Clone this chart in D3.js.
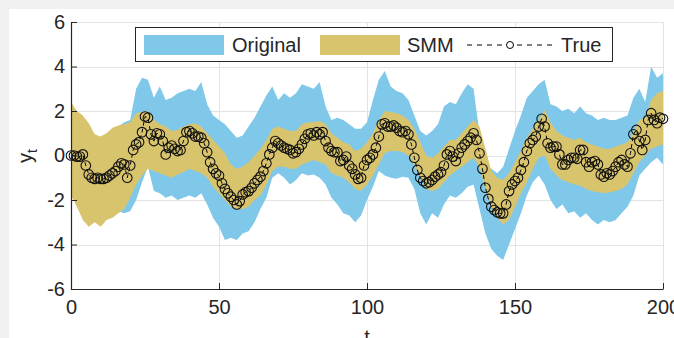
<!DOCTYPE html>
<html>
<head>
<meta charset="utf-8">
<script src="https://cdn.jsdelivr.net/npm/d3@7"></script>
<style>
  body { margin: 0; background: #f0f0f0; }
  text { font-family: "Liberation Sans", Arial, sans-serif; fill: #262626; }
</style>
</head>
<body>
<svg width="674" height="338"></svg>
<script>
// true series, one value per t = 0..200
const trueVals = [
  0.0, 0.0, -0.05, -0.05, 0.05, -0.45, -0.85, -1.0, -1.05, -1.0,
  -1.05, -1.05, -1.0, -0.9, -0.8, -0.7, -0.5, -0.35, -0.4, -1.0,
  -0.45, 0.25, 0.5, 0.6, 1.05, 1.75, 1.7, 0.95, 0.65, 1.0,
  0.95, 0.65, 0.05, 0.35, 0.45, 0.3, 0.2, 0.25, 0.65, 1.05,
  1.1, 1.0, 0.85, 0.85, 0.8, 0.55, 0.15, -0.3, -0.6, -0.8,
  -0.9, -1.25, -1.5, -1.7, -1.85, -2.0, -2.2, -2.05, -1.75, -1.65,
  -1.6, -1.45, -1.25, -1.1, -0.95, -0.7, -0.35, 0.05, 0.35, 0.65,
  0.55, 0.45, 0.35, 0.3, 0.25, 0.1, 0.15, 0.3, 0.5, 0.75,
  0.95, 1.0, 0.9, 1.05, 0.95, 1.05, 0.65, 0.35, 0.2, 0.15,
  0.15, -0.25, -0.2, -0.05, -0.45, -0.6, -0.85, -1.05, -1.0, -0.45,
  -0.2, -0.1, 0.05, 0.35, 0.85, 1.4, 1.45, 1.3, 1.3, 1.35,
  1.25, 1.1, 1.05, 1.1, 0.95, 0.5, -0.1, -0.65, -1.0, -1.15,
  -1.25, -1.2, -1.1, -0.95, -0.85, -0.75, -0.45, 0.05, 0.2, -0.05,
  -0.25, 0.1, 0.35, 0.5, 0.65, 0.8, 1.0, 0.7, 0.1, -0.6,
  -1.45, -1.95, -2.3, -2.45, -2.55, -2.6, -2.6, -2.2, -1.6, -1.3,
  -1.15, -1.0, -0.65, -0.3, 0.2, 0.55, 0.7, 0.85, 1.3, 1.65,
  1.3, 0.55, 0.35, 0.4, 0.4, 0.05, -0.4, -0.4, -0.2, -0.1,
  -0.1, -0.15, 0.25, 0.25, -0.3, -0.5, -0.3, -0.25, -0.4, -0.85,
  -0.95, -0.8, -0.85, -0.7, -0.5, -0.3, -0.2, -0.4, -0.5, 0.1,
  0.95, 1.15, 0.65, 0.25, 0.7, 1.6, 1.9, 1.6, 1.45, 1.7,
  1.65
];

// band edges, one value per t = 0, 2, ..., 200
const origHi = [
  2.2, 1.8, 1.6, 1.3, 0.8, 0.7, 0.8, 1.1, 1.3, 1.5,
  1.6, 3.0, 3.5, 3.4, 2.6, 3.1, 2.5, 2.6, 2.8, 2.9,
  3.0, 2.9, 3.3, 2.3, 1.8, 1.6, 1.4, 1.1, 0.8, 0.9,
  1.3, 1.7, 2.2, 2.7, 3.1, 2.5, 2.8, 2.6, 2.8, 3.2,
  3.1, 3.0, 3.3, 2.2, 1.6, 1.7, 1.6, 1.4, 1.2, 1.2,
  1.5, 2.5, 3.4, 3.8, 3.1, 2.9, 2.8, 2.5, 1.8, 1.1,
  0.9, 1.1, 1.4, 2.2, 2.4, 2.3, 2.8, 3.2, 3.0, 1.0,
  -0.4, -0.6, -0.8, -0.5, 0.3, 1.1, 1.8, 2.6, 2.9, 3.2,
  3.4, 2.3, 2.2, 2.0, 2.1, 1.9, 2.2, 1.9, 1.8, 1.6,
  1.7, 1.6, 1.6, 1.7, 1.8, 2.6, 3.0, 2.4, 4.0, 3.5,
  3.7
];
const origLo = [
  -1.6, -2.1, -2.7, -3.0, -2.8, -3.0, -2.7, -2.6, -2.5, -2.6,
  -2.5, -2.0, -1.2, -0.5, -1.6, -1.7, -1.9, -1.8, -2.0, -1.9,
  -1.8, -1.9, -1.7, -2.2, -2.8, -3.2, -3.8, -3.7, -3.8, -3.5,
  -3.4, -3.0, -2.4, -1.9, -1.0, -0.8, -1.0, -1.3, -1.1, -0.8,
  -0.9, -0.85, -1.0, -1.3, -1.9, -2.2, -2.6, -2.7, -3.0, -2.7,
  -2.0, -1.4, -0.7, -0.9, -1.0, -1.05, -0.95, -1.0, -1.5, -2.6,
  -3.1, -2.6, -2.8, -2.2, -1.8, -1.9, -1.7, -1.4, -1.3, -2.4,
  -3.5, -4.2, -4.5, -4.7, -4.0, -3.3, -2.6, -1.8, -1.2, -0.9,
  -1.3, -2.0, -2.4, -2.2, -2.6, -2.5, -2.8, -2.6, -2.9, -3.1,
  -2.9, -3.0, -2.9, -2.6, -2.3, -1.8, -0.9, -0.6, -0.3, -0.1,
  -0.4
];
const smmHi = [
  2.4, 2.0, 1.8, 1.45, 0.95, 0.85, 1.0, 1.25, 1.35, 1.4,
  1.5, 1.9, 1.95, 2.0, 1.6, 1.4, 1.3, 1.1, 1.15, 1.3,
  1.4, 1.45, 1.3, 1.0, 0.7, 0.4, 0.1, -0.4, -0.6, -0.5,
  -0.3, 0.0, 0.3, 0.7, 1.2, 1.3, 1.2, 1.1, 1.1, 1.4,
  1.5, 1.5, 1.55, 1.4, 1.0, 0.8, 0.6, 0.5, 0.2, 0.3,
  0.6, 1.0, 1.6, 2.0, 1.95, 1.9, 1.8, 1.6, 1.2, 0.6,
  0.0, -0.1, 0.1, 0.4, 0.7, 0.7, 1.0, 1.3, 1.6, 1.3,
  0.3, -0.7, -1.0, -1.1, -0.8, -0.3, 0.2, 0.8, 1.2, 1.6,
  2.05, 1.5, 1.1, 0.9, 0.8, 0.7, 0.8, 0.6, 0.5, 0.4,
  0.3, 0.3, 0.4, 0.5, 0.6, 1.0, 1.6, 1.7, 2.5, 2.8,
  2.9
];
const smmLo = [
  -1.8, -2.3, -2.9, -3.2, -3.0, -3.2, -2.9, -2.8, -2.6, -2.4,
  -1.9, -1.3, -0.9, -0.6, -0.7, -0.8, -0.9, -1.0, -0.85, -0.75,
  -0.6, -0.7, -0.8, -1.0, -1.4, -1.7, -2.0, -2.3, -2.4, -2.4,
  -2.3, -2.0, -1.8, -1.3, -0.7, -0.5, -0.5, -0.6, -0.6, -0.4,
  -0.3, -0.2, -0.3, -0.4, -0.8, -0.9, -1.0, -1.2, -1.5, -1.6,
  -1.3, -0.9, -0.4, 0.1, 0.2, 0.2, 0.15, 0.0, -0.4, -1.0,
  -1.5, -1.6, -1.5, -1.2, -0.9, -0.7, -0.5, -0.3, -0.1, -0.5,
  -1.5, -2.3, -2.8, -3.1, -2.9, -2.3, -1.7, -1.2, -0.6, -0.1,
  0.0, -0.6, -0.9, -1.1, -1.2, -1.3, -1.35, -1.5, -1.6, -1.65,
  -1.7, -1.65, -1.6, -1.5, -1.3, -0.8, -0.3, 0.0, 0.3, 0.4,
  0.5
];

const yTicks = [-6, -4, -2, 0, 2, 4, 6];
const xTicks = [0, 50, 100, 150, 200];
const legendLabels = ['Original', 'SMM', 'True'];

const blue = '#7fc8ea';
const khaki = '#d9c46e';
const ink = '#262626';

const svg = d3.select('svg');
const margin = { left: 71, right: 11, top: 22, bottom: 49 };
const W = 674, H = 338;

// figure background + white panel
svg.append('rect').attr('width', W).attr('height', H).attr('fill', '#f0f0f0');
svg.append('rect').attr('x', 9).attr('y', 9).attr('width', W - 9).attr('height', H - 9).attr('fill', '#ffffff');

const x = d3.scaleLinear().domain([0, 200]).range([margin.left, W - margin.right]);
const y = d3.scaleLinear().domain([-6, 6]).range([H - margin.bottom, margin.top]);

// grid
const grid = svg.append('g').attr('stroke', '#e3e3e3').attr('stroke-width', 1);
grid.selectAll('.gy').data(yTicks).enter().append('line')
  .attr('x1', x(0)).attr('x2', x(200))
  .attr('y1', d => Math.round(y(d)) + 0.5).attr('y2', d => Math.round(y(d)) + 0.5);
grid.selectAll('.gx').data(xTicks).enter().append('line')
  .attr('y1', y(-6)).attr('y2', y(6))
  .attr('x1', d => Math.round(x(d)) + 0.5).attr('x2', d => Math.round(x(d)) + 0.5);

const bandT = d3.range(0, 201, 2);
const origData = bandT.map((t, i) => ({ t, lo: origLo[i], hi: origHi[i] }));
const smmData = bandT.map((t, i) => ({ t, lo: smmLo[i], hi: smmHi[i] }));

const area = d3.area()
  .x(d => x(d.t))
  .y0(d => y(d.lo))
  .y1(d => y(d.hi));

svg.append('path').datum(origData).attr('d', area).attr('fill', blue);
svg.append('path').datum(smmData).attr('d', area).attr('fill', khaki);

// true series
const trueData = trueVals.map((v, i) => ({ t: i, v }));
const line = d3.line().x(d => x(d.t)).y(d => y(d.v));
svg.append('path').datum(trueData).attr('d', line)
  .attr('fill', 'none').attr('stroke', '#000').attr('stroke-width', 1)
  .attr('stroke-dasharray', '4,3');
svg.append('g').selectAll('circle').data(trueData).enter().append('circle')
  .attr('cx', d => x(d.t)).attr('cy', d => y(d.v)).attr('r', 4.8)
  .attr('fill', 'none').attr('stroke', '#111').attr('stroke-width', 1.1);

// axes
const yAxis = svg.append('g').attr('transform', `translate(${margin.left},0)`)
  .call(d3.axisLeft(y).tickValues(yTicks).tickFormat(d => String(d))
    .tickSizeInner(-6).tickSizeOuter(0).tickPadding(6));
const xAxis = svg.append('g').attr('transform', `translate(0,${H - margin.bottom})`)
  .call(d3.axisBottom(x).tickValues(xTicks).tickFormat(d => String(d))
    .tickSizeInner(-6).tickSizeOuter(0).tickPadding(11));
[yAxis, xAxis].forEach(a => {
  a.select('.domain').attr('stroke', ink).attr('stroke-width', 1.2);
  a.selectAll('.tick line').attr('stroke', ink);
  a.selectAll('.tick text').attr('fill', ink).style('font-size', '20px')
    .style('font-family', '"Liberation Sans", Arial, sans-serif');
});

// axis labels
const yl = svg.append('text').attr('transform', 'translate(32,156) rotate(-90)')
  .attr('text-anchor', 'middle').style('font-size', '20px');
yl.append('tspan').text('y');
yl.append('tspan').attr('dy', 5).style('font-size', '14px').text('t');
svg.append('text').attr('x', x(100)).attr('y', 344).attr('text-anchor', 'middle')
  .style('font-size', '20px').text('t');

// legend
const lg = svg.append('g');
lg.append('rect').attr('x', 135.5).attr('y', 27.5).attr('width', 477).attr('height', 34)
  .attr('fill', '#fff').attr('stroke', ink).attr('stroke-width', 1);
lg.append('rect').attr('x', 144).attr('y', 35).attr('width', 80).attr('height', 20).attr('fill', blue);
lg.append('rect').attr('x', 320).attr('y', 35).attr('width', 80).attr('height', 20).attr('fill', khaki);
lg.append('line').attr('x1', 467).attr('x2', 553).attr('y1', 45).attr('y2', 45)
  .attr('stroke', '#000').attr('stroke-width', 1).attr('stroke-dasharray', '5,5');
lg.append('circle').attr('cx', 510).attr('cy', 45).attr('r', 3.5)
  .attr('fill', '#fff').attr('stroke', '#000').attr('stroke-width', 1);
const lx = [232, 407, 561];
lg.selectAll('.lt').data(legendLabels).enter().append('text')
  .attr('x', (d, i) => lx[i]).attr('y', 52).style('font-size', '20px').text(d => d);
</script>
</body>
</html>
